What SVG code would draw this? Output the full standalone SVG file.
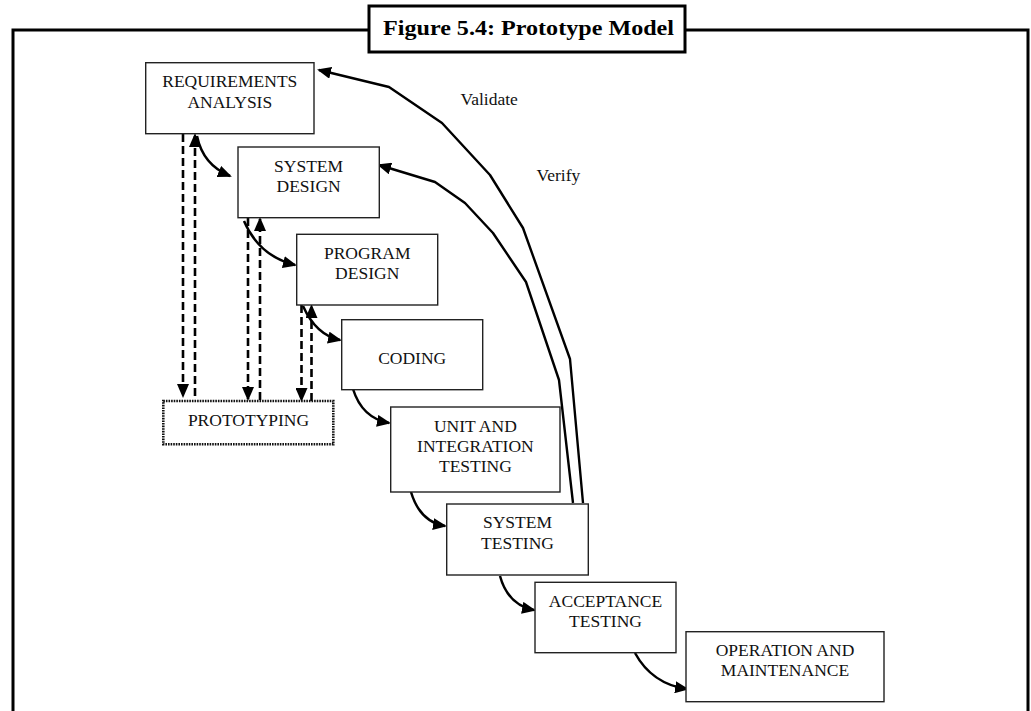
<svg xmlns="http://www.w3.org/2000/svg" width="1031" height="711" viewBox="0 0 1031 711">
<style>
.bg{fill:#fff}
.frame{fill:none;stroke:#000;stroke-width:3}
.box{fill:#fff;stroke:#222;stroke-width:1.4}
.proto{fill:#fff;stroke:#111;stroke-width:2.6;stroke-dasharray:1.6 1}
.t{font-family:"Liberation Serif","Times New Roman",serif;font-size:17.5px;fill:#111;text-anchor:middle}
.lbl{font-family:"Liberation Serif","Times New Roman",serif;font-size:17.5px;fill:#111}
.title{font-family:"Liberation Serif","Times New Roman",serif;font-size:21px;font-weight:bold;fill:#000}
.flow{fill:none;stroke:#000;stroke-width:2.5;marker-end:url(#ah)}
.dash{fill:none;stroke:#000;stroke-width:2.6;stroke-dasharray:8 4;marker-end:url(#ah)}
.fb{fill:none;stroke:#000;stroke-width:2.4;stroke-linejoin:round;marker-end:url(#ah)}
</style>
<defs>
<marker id="ah" viewBox="0 0 14 12" refX="12" refY="6" markerWidth="14" markerHeight="12" markerUnits="userSpaceOnUse" orient="auto">
<path d="M0,0 L14,6 L0,12 z" fill="#000" stroke="none"/>
</marker>
</defs>
<rect class="bg" x="0" y="0" width="1031" height="711"/>
<g id="frame">
<path class="frame" d="M13,711 V30 H1028 V711"/>
<rect x="369" y="6" width="316" height="46" fill="#fff" stroke="#000" stroke-width="3"/>
<text class="title" x="383" y="35" textLength="291" lengthAdjust="spacingAndGlyphs">Figure 5.4: Prototype Model</text>
</g>
<g id="connectors">
<path class="dash" d="M183,134 V396"/>
<path class="dash" d="M195,396 V135"/>
<path class="dash" d="M248,218 V399"/>
<path class="dash" d="M260,400 V219"/>
<path class="dash" d="M301.5,305 V400"/>
<path class="dash" d="M311.5,401 V306"/>
<path class="flow" d="M197,136 Q203,165 230,176"/>
<path class="flow" d="M244,221 Q259,256 295,265"/>
<path class="flow" d="M303,306 Q316,335 340,340"/>
<path class="flow" d="M353,389 Q362,418 389,423"/>
<path class="flow" d="M411,492 Q420,522 445,526"/>
<path class="flow" d="M500,576 Q508,605 534,610"/>
<path class="flow" d="M635,653 Q652,684 687,689"/>
<path class="fb" d="M583,503 L570,359 L523,228 L490,175 L442,123 L389,87 L319,70"/>
<path class="fb" d="M573,503 L559,380 L526,282 L493,233 L465,203 L435,182 L379,165"/>
<text class="lbl" x="460.5" y="105">Validate</text>
<text class="lbl" x="536.5" y="181">Verify</text>
</g>
<g id="requirements">
<rect class="box" x="145.7" y="62.7" width="168.3" height="71"/>
<text class="t" x="229.8" y="87">REQUIREMENTS</text>
<text class="t" x="229.8" y="108.3">ANALYSIS</text>
</g>
<g id="system-design">
<rect class="box" x="238" y="147" width="141.3" height="70.7"/>
<text class="t" x="308.6" y="171.7">SYSTEM</text>
<text class="t" x="308.6" y="192.3">DESIGN</text>
</g>
<g id="program-design">
<rect class="box" x="296.7" y="234.3" width="141" height="70.7"/>
<text class="t" x="367.2" y="259.3">PROGRAM</text>
<text class="t" x="367.2" y="279.3">DESIGN</text>
</g>
<g id="coding">
<rect class="box" x="341.7" y="319.7" width="141" height="70"/>
<text class="t" x="412.2" y="364">CODING</text>
</g>
<g id="unit-integration-testing">
<rect class="box" x="390.7" y="407" width="169.3" height="85"/>
<text class="t" x="475.4" y="431.7">UNIT AND</text>
<text class="t" x="475.4" y="451.7">INTEGRATION</text>
<text class="t" x="475.4" y="472.3">TESTING</text>
</g>
<g id="system-testing">
<rect class="box" x="446.7" y="504" width="141.6" height="71"/>
<text class="t" x="517.5" y="528.3">SYSTEM</text>
<text class="t" x="517.5" y="549.3">TESTING</text>
</g>
<g id="acceptance-testing">
<rect class="box" x="535" y="582.3" width="141" height="70.4"/>
<text class="t" x="605.5" y="606.7">ACCEPTANCE</text>
<text class="t" x="605.5" y="626.7">TESTING</text>
</g>
<g id="operation-maintenance">
<rect class="box" x="686" y="631.7" width="198" height="70"/>
<text class="t" x="785" y="656">OPERATION AND</text>
<text class="t" x="785" y="676">MAINTENANCE</text>
</g>
<g id="prototyping">
<rect class="proto" x="163.3" y="401" width="170" height="43.3"/>
<text class="t" x="248.5" y="426">PROTOTYPING</text>
</g>
</svg>
